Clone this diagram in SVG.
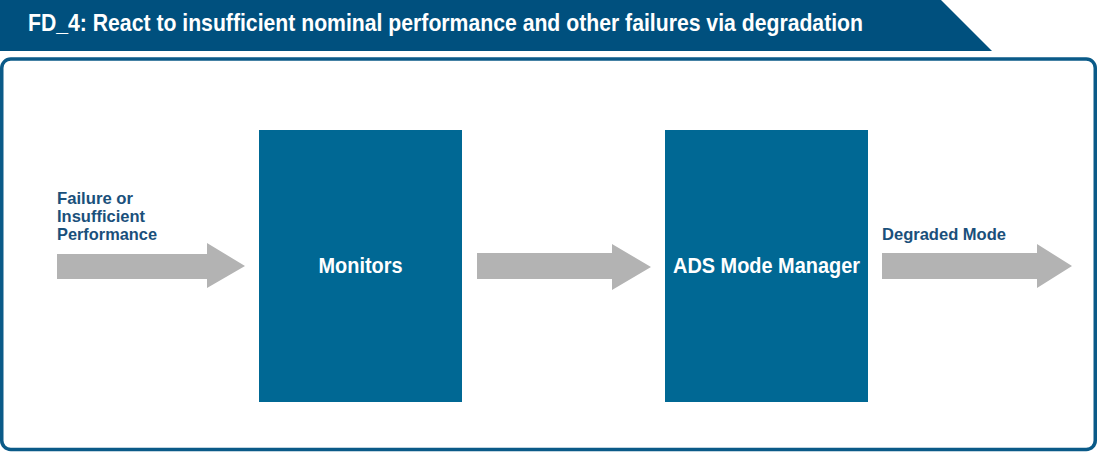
<svg xmlns="http://www.w3.org/2000/svg" width="1098" height="452" viewBox="0 0 1098 452">
  <style>
    .box { fill: #006894; }
    .arrow { fill: #b3b3b3; }
    .lbl { font-family: "Liberation Sans", Arial, sans-serif; font-weight: bold; font-size: 17px; fill: #1a507b; }
    .boxtxt { font-family: "Liberation Sans", Arial, sans-serif; font-weight: bold; font-size: 21.5px; fill: #ffffff; text-anchor: middle; }
    .title { font-family: "Liberation Sans", Arial, sans-serif; font-weight: bold; font-size: 24.5px; fill: #ffffff; }
  </style>
  <rect x="0" y="0" width="1098" height="452" fill="#ffffff"/>
  <g id="header">
    <polygon points="0,0 941,0 992,51 0,51" fill="#00507e"/>
    <text class="title" x="28" y="31" textLength="835" lengthAdjust="spacingAndGlyphs">FD_4: React to insufficient nominal performance and other failures via degradation</text>
  </g>
  <g id="frame">
    <rect x="1.75" y="59" width="1093.5" height="390.5" rx="9" ry="9" fill="none" stroke="#0a5a88" stroke-width="3.5"/>
  </g>
  <g id="connectors">
    <g id="arrow-in">
      <polygon class="arrow" points="57,254 207,254 207,243 245,266 207,288 207,279 57,279"/>
      <text class="lbl" x="57" y="204" textLength="76" lengthAdjust="spacingAndGlyphs">Failure or</text>
      <text class="lbl" x="57" y="222" textLength="88" lengthAdjust="spacingAndGlyphs">Insufficient</text>
      <text class="lbl" x="57" y="240" textLength="100" lengthAdjust="spacingAndGlyphs">Performance</text>
    </g>
    <g id="arrow-mid">
      <polygon class="arrow" points="477,253 612,253 612,244 651,267 612,290 612,279 477,279"/>
    </g>
    <g id="arrow-out">
      <polygon class="arrow" points="882,253 1037,253 1037,244 1072,266 1037,288 1037,279 882,279"/>
      <text class="lbl" x="882" y="240" textLength="124" lengthAdjust="spacingAndGlyphs">Degraded Mode</text>
    </g>
  </g>
  <g id="monitors">
    <rect class="box" x="259" y="130" width="203" height="272"/>
    <text class="boxtxt" x="360.5" y="273" textLength="84" lengthAdjust="spacingAndGlyphs">Monitors</text>
  </g>
  <g id="ads-mode-manager">
    <rect class="box" x="665" y="130" width="203" height="272"/>
    <text class="boxtxt" x="766.5" y="273" textLength="187" lengthAdjust="spacingAndGlyphs">ADS Mode Manager</text>
  </g>
</svg>
